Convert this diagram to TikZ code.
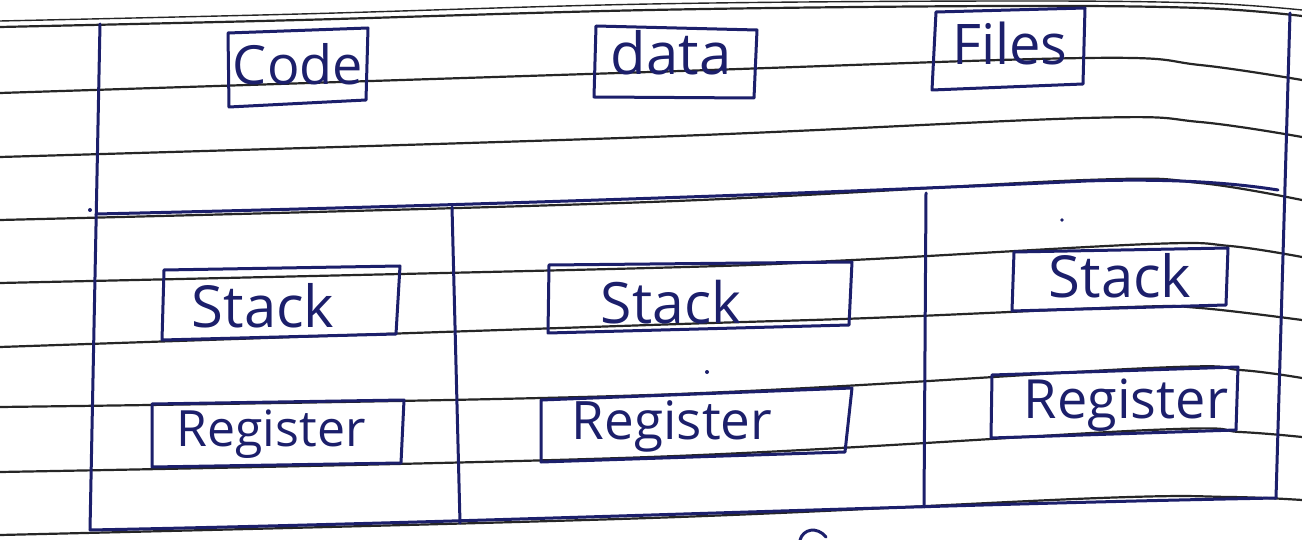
\documentclass[tikz,border=0pt]{standalone}
\usepackage{fontspec}
\setmainfont{Open Sans}
\begin{document}
\begin{tikzpicture}[x=1pt,y=-1pt,
  paper/.style={draw=black!85,line width=2.2pt},
  ink/.style={draw=inkblue,line width=3pt,line join=round,line cap=round},
  label/.style={text=inkblue,inner sep=0pt}]
\definecolor{inkblue}{HTML}{1C1F6B}
\useasboundingbox[fill=white] (0,0) rectangle (1302,540);

% ruled lines of the sheet
\draw[paper] plot[smooth,tension=0.6] coordinates {(0,27) (300,20) (650,10) (1000,6) (1200,8) (1302,16)};
\draw[paper,line width=1.4pt] plot[smooth,tension=0.6] coordinates {(0,21) (300,14) (650,4) (1000,1) (1200,3) (1302,10)};
\draw[paper] plot[smooth,tension=0.6] coordinates {(0,93) (650,72) (1086,58) (1200,65) (1302,80)};
\draw[paper] plot[smooth,tension=0.6] coordinates {(0,157) (650,137) (1086,118) (1200,122) (1302,137)};
\draw[paper] plot[smooth,tension=0.6] coordinates {(0,220) (650,202) (1086,180) (1200,183) (1302,200)};
\draw[paper] plot[smooth,tension=0.6] coordinates {(0,283) (650,268) (853,260) (1150,244) (1230,246) (1302,257)};
\draw[paper] plot[smooth,tension=0.6] coordinates {(0,347) (650,325) (870,318) (1130,307) (1200,308) (1302,320)};
\draw[paper] plot[smooth,tension=0.6] coordinates {(0,407) (650,395) (1150,368) (1240,370) (1302,378)};
\draw[paper] plot[smooth,tension=0.6] coordinates {(0,472) (650,457) (1150,430) (1240,432) (1302,437)};
\draw[paper] plot[smooth,tension=0.6] coordinates {(0,535) (650,518) (1100,498) (1230,497) (1302,500)};

% process frame
\coordinate (pTL) at (100,24);
\coordinate (pTR) at (1290,13);
\coordinate (pBR) at (1276,498);
\coordinate (pBL) at (90,530);
\draw[ink] (pTL) -- (pBL);
\draw[ink] (pTR) -- (pBR);
\draw[ink] (pBL) .. controls (500,522) and (900,505) .. (pBR);
% shared part / threads divider
\coordinate (dL) at (96,214);
\coordinate (dR) at (1278,190);
\draw[ink] (dL) .. controls (500,205) and (900,190) .. (1086,181) .. controls (1180,178) and (1240,184) .. (dR);
% thread columns
\coordinate (c1t) at (452,207);
\coordinate (c1b) at (460,523);
\coordinate (c2t) at (926,193);
\coordinate (c2b) at (924,507);
\draw[ink] (c1t) -- (c1b);
\draw[ink] (c2t) -- (c2b);

% shared resources
\draw[ink] (228,33) -- (368,28) -- (366,100) -- (229,107) -- cycle;
\node[label,font=\fontsize{54}{54}\selectfont] (code) at (298,64) {Code};
\draw[ink] (596,26) -- (757,30) -- (754,98) -- (594,97) -- cycle;
\node[label,font=\fontsize{58}{58}\selectfont] (data) at (671,53) {data};
\draw[ink] (936,12) -- (1085,8) -- (1083,84) -- (932,90) -- cycle;
\node[label,font=\fontsize{56}{56}\selectfont] (files) at (1010,44) {Files};

% per-thread stacks
\draw[ink] (164,270) -- (400,266) -- (396,334) -- (162,340) -- cycle;
\node[label,font=\fontsize{58}{58}\selectfont] (stack1) at (263,306) {Stack};
\draw[ink] (549,265) -- (852,262) -- (849,325) -- (548,333) -- cycle;
\node[label,font=\fontsize{57}{57}\selectfont] (stack2) at (671,302) {Stack};
\draw[ink] (1014,252) -- (1228,248) -- (1226,305) -- (1012,311) -- cycle;
\node[label,font=\fontsize{58}{58}\selectfont] (stack3) at (1120,276) {Stack};

% per-thread registers
\draw[ink] (152,404) -- (404,400) -- (401,463) -- (152,467) -- cycle;
\node[label,font=\fontsize{50}{50}\selectfont] (reg1) at (271,434) {Register};
\draw[ink] (541,400) -- (852,388) -- (845,452) -- (541,462) -- cycle;
\node[label,font=\fontsize{53}{53}\selectfont] (reg2) at (672,426) {Register};
\draw[ink] (992,375) -- (1238,367) -- (1236,430) -- (991,438) -- cycle;
\node[label,font=\fontsize{54}{54}\selectfont] (reg3) at (1126,405) {Register};

% stray marks
\fill[inkblue] (90,210) circle (2pt);
\fill[inkblue] (1062,220) circle (1.8pt);
\fill[inkblue] (707,372) circle (2pt);
\draw[ink] (800,540) .. controls (803,529) and (817,526) .. (826,537);
\end{tikzpicture}
\end{document}
